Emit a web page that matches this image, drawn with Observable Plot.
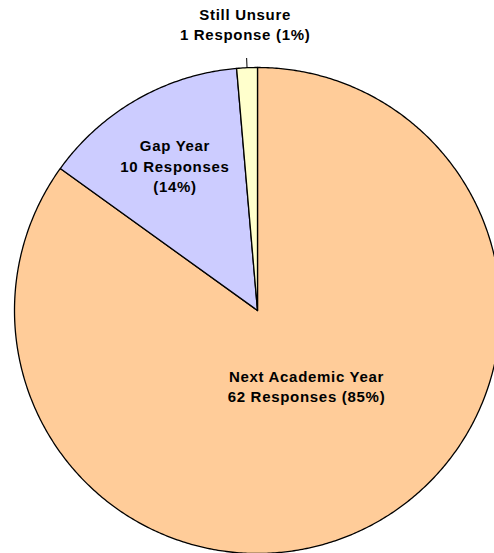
<!DOCTYPE html>
<html><head><meta charset="utf-8">
<script src="https://cdn.jsdelivr.net/npm/d3@7"></script>
<script src="https://cdn.jsdelivr.net/npm/@observablehq/plot@0.6"></script>
<style>html,body{margin:0;padding:0;background:#fff;overflow:hidden;} svg text{letter-spacing:0.7px;}</style>
</head><body><div id="chart"></div>
<script>
// ---- data ----
const categories = ["Next Academic Year", "Gap Year", "Still Unsure"];
const responses = [62, 10, 1];
const colors = ["#FFCC99", "#CCCCFF", "#FFFFCC"];

// ---- derived geometry ----
const total = d3.sum(responses);
const arcs = d3.pie().sort(null).value(d => d)(responses);

const slicePoints = [];
arcs.forEach((a, i) => {
  slicePoints.push({cat: categories[i], x: 0, y: 0});
  const n = Math.max(2, Math.ceil((a.endAngle - a.startAngle) / (Math.PI / 360)));
  for (let k = 0; k <= n; k++) {
    const t = a.startAngle + (a.endAngle - a.startAngle) * k / n;
    slicePoints.push({cat: categories[i], x: Math.sin(t), y: Math.cos(t)});
  }
});

// label layout: small slices get outside label with a leader line
const labels = arcs.map((a, i) => {
  const share = responses[i] / total;
  const pct = Math.round(share * 100) + "%";
  const resp = responses[i] + (responses[i] === 1 ? " Response" : " Responses");
  const mid = (a.startAngle + a.endAngle) / 2;
  const outside = share < 0.05;
  let text, r, ang = mid;
  if (outside) { text = categories[i] + "\n" + resp + " (" + pct + ")"; r = 1.18; }
  else if (share > 0.5) { text = categories[i] + "\n" + resp + " (" + pct + ")"; r = 0.369; ang = mid - 6 * Math.PI / 180; }
  else { text = categories[i] + "\n" + resp + "\n(" + pct + ")"; r = 0.688; }
  return {text, x: r * Math.sin(ang), y: r * Math.cos(ang), mid, outside};
});
const leaders = labels.filter(d => d.outside).map(d => ({
  x1: Math.sin(d.mid), y1: Math.cos(d.mid),
  x2: 1.04 * Math.sin(d.mid), y2: 1.04 * Math.cos(d.mid)
}));

const chart = Plot.plot({
  width: 494,
  height: 553,
  x: {domain: [-1, 1], range: [14, 500], axis: null},
  y: {domain: [-1, 1], range: [553, 67], axis: null},
  color: {domain: categories, range: colors},
  style: {fontFamily: "'Liberation Sans', Arial, sans-serif", background: "#fff"},
  marks: [
    Plot.line(slicePoints, {x: "x", y: "y", z: "cat", fill: "cat", stroke: "#000", strokeWidth: 1.3, curve: "linear-closed", strokeLinejoin: "round"}),
    Plot.link(leaders, {x1: "x1", y1: "y1", x2: "x2", y2: "y2", stroke: "#000", strokeWidth: 1}),
    Plot.text(labels, {x: "x", y: "y", text: "text", fontSize: 15, fontWeight: "bold", fill: "#000", lineHeight: 1.34, textAnchor: "middle"})
  ]
});
document.getElementById("chart").appendChild(chart);
</script>
</body></html>
